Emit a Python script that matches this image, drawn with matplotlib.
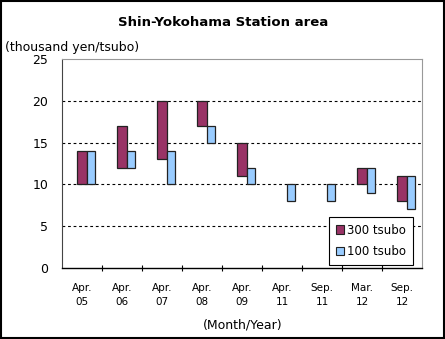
import numpy as np
import matplotlib
matplotlib.use("Agg")
from matplotlib import pyplot as plt
from matplotlib.patches import Rectangle

# month/year labels
labels = ["Apr.\n05", "Apr.\n06", "Apr.\n07", "Apr.\n08", "Apr.\n09",
          "Apr.\n11", "Sep.\n11", "Mar.\n12", "Sep.\n12"]

# price range (thousand yen/tsubo), low and high; None where no data
low_300 = [10, 12, 13, 17, 11, None, None, 10, 8]
high_300 = [14, 17, 20, 20, 15, None, None, 12, 11]
low_100 = [10, 12, 10, 15, 10, 8, 8, 9, 7]
high_100 = [14, 14, 14, 17, 12, 10, 10, 12, 11]

c300 = "#993366"
c100 = "#99ccff"

fig = plt.figure(figsize=(4.45, 3.39), dpi=100)
ax = fig.add_axes([62/445, 1-268/339, 360/445, 209/339])

x = np.arange(len(labels))
for i in x:
    if low_300[i] is not None:
        ax.bar(i - 0.13, high_300[i] - low_300[i], width=0.25, bottom=low_300[i],
               align="edge", color=c300, edgecolor="#222222", linewidth=0.9, zorder=3)
    ax.bar(i + 0.13, high_100[i] - low_100[i], width=0.2, bottom=low_100[i],
           align="edge", color=c100, edgecolor="#222222", linewidth=0.9, zorder=3)

ax.set_xlim(-0.5, len(labels) - 0.5)
ax.set_ylim(0, 25)
ax.set_yticks([0, 5, 10, 15, 20, 25])
ax.set_xticks(x)
ax.set_xticklabels(labels, fontsize=7.5, linespacing=1.45)
ax.set_xticks(np.arange(0.5, len(labels) - 0.5, 1), minor=True)
ax.tick_params(axis="x", which="major", length=0, pad=11)
ax.tick_params(axis="x", which="minor", length=4, direction="inout", width=0.8)
ax.tick_params(axis="y", length=0, labelsize=9, pad=10)

for yv in [5, 10, 15, 20]:
    ax.axhline(yv, color="black", linestyle=(0, (2.5, 2.5)), linewidth=0.8, zorder=1)

ax.spines["top"].set_color("#999999")
ax.spines["right"].set_color("#999999")
ax.spines["left"].set_color("#444444")
ax.spines["bottom"].set_color("black")
ax.spines["bottom"].set_linewidth(1.0)

h1 = Rectangle((0, 0), 1, 1, facecolor=c300, edgecolor="#222222", linewidth=0.8)
h2 = Rectangle((0, 0), 1, 1, facecolor=c100, edgecolor="#222222", linewidth=0.8)
leg = ax.legend([h1, h2], ["300 tsubo", "100 tsubo"], loc="lower right",
                bbox_to_anchor=(0.974, 0.014), fancybox=False, framealpha=1,
                edgecolor="black", fontsize=8.5, handlelength=0.7, handleheight=0.7,
                handletextpad=0.2, borderaxespad=0, labelspacing=0.7,
                borderpad=0.6)
leg.get_frame().set_linewidth(0.8)

fig.text(223/445, 1 - 23/339, "Shin-Yokohama Station area", ha="center", va="center",
         fontsize=9.5, fontweight="bold")
fig.text(5/445, 1 - 48/339, "(thousand yen/tsubo)", ha="left", va="center", fontsize=9)
fig.text(243/445, 1 - 325/339, "(Month/Year)", ha="center", va="center", fontsize=9)

fig.patches.append(Rectangle((0.002, 0.003), 0.995, 0.994, transform=fig.transFigure,
                             fill=False, edgecolor="black", linewidth=1.5))

fig.savefig("out.png", dpi=100)
